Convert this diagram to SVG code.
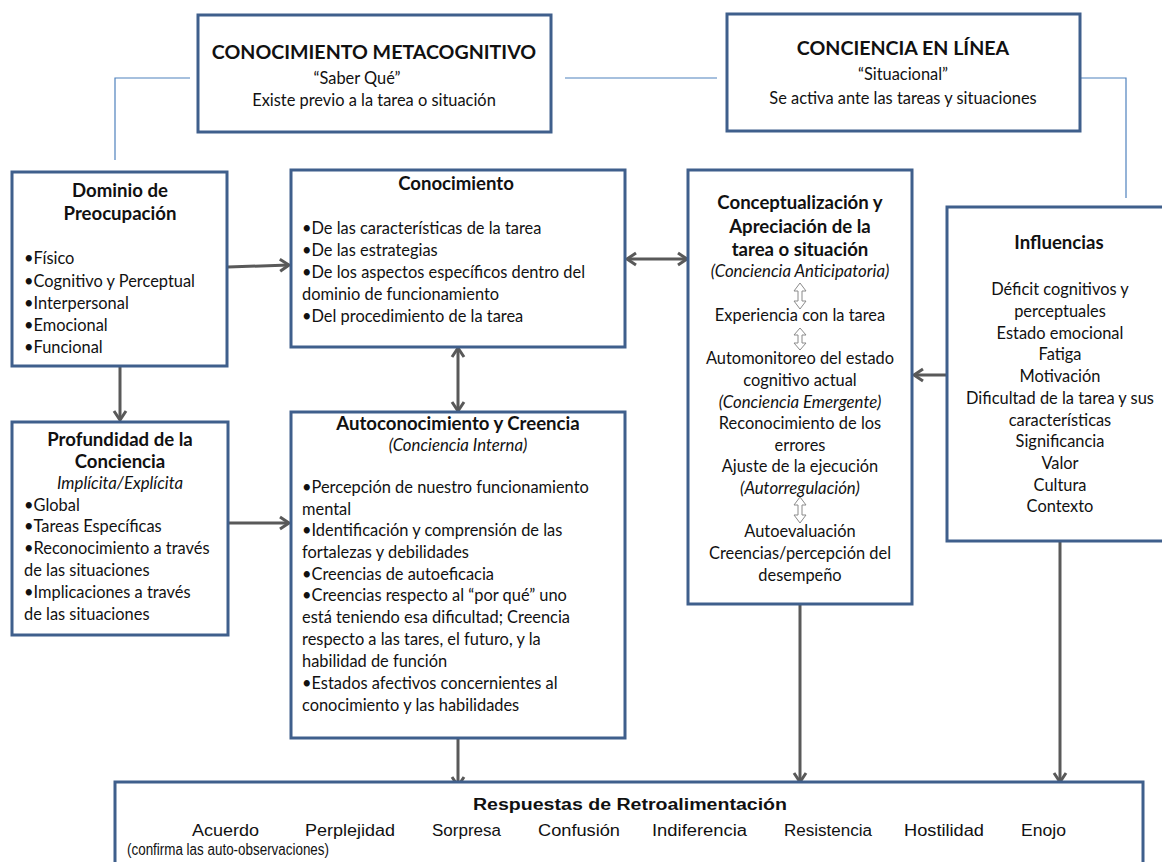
<svg xmlns="http://www.w3.org/2000/svg" width="1162" height="862" viewBox="0 0 1162 862">
<style>
.box{fill:#fff;stroke:#3f5f8c;stroke-width:3}
.t{font-family:Lato,"Liberation Sans",sans-serif;font-size:16.4px;fill:#111}
.c{text-anchor:middle}
.b{font-weight:bold;font-size:18.6px}
.i{font-style:italic;font-size:16.8px}
.big{font-size:19.6px;font-weight:bold}
.blue{fill:none;stroke:#4f81bd;stroke-width:1.2}
.arr{fill:none;stroke:#595959;stroke-width:3}
.dbl{fill:#fff;stroke:#8a8a8a;stroke-width:1}
.n{font-family:"Liberation Sans",sans-serif;font-size:16px;fill:#111}
</style>
<defs>
<marker id="ah" markerUnits="userSpaceOnUse" markerWidth="16" markerHeight="16" refX="13" refY="8" orient="auto-start-reverse" viewBox="0 0 16 16">
<path d="M4,2 L13,8 L4,14" fill="none" stroke="#595959" stroke-width="3"/>
</marker>
</defs>
<rect width="1162" height="862" fill="#fff"/>

<g id="connectors">
<path class="blue" d="M190,78 H115 V160"/>
<path class="blue" d="M565,78 H717"/>
<path class="blue" d="M1081,78 H1126 V198"/>
<line class="arr" x1="228" y1="267" x2="289" y2="265" marker-end="url(#ah)"/>
<line class="arr" x1="120" y1="367" x2="120" y2="420" marker-end="url(#ah)"/>
<line class="arr" x1="217" y1="523" x2="289" y2="523" marker-end="url(#ah)"/>
<line class="arr" x1="627" y1="259" x2="687" y2="259" marker-start="url(#ah)" marker-end="url(#ah)"/>
<line class="arr" x1="458" y1="348" x2="458" y2="411" marker-start="url(#ah)" marker-end="url(#ah)"/>
<line class="arr" x1="947" y1="375" x2="914" y2="375" marker-end="url(#ah)"/>
<line class="arr" x1="458" y1="739" x2="458" y2="786" marker-end="url(#ah)"/>
<line class="arr" x1="800" y1="605" x2="800" y2="782" marker-end="url(#ah)"/>
<line class="arr" x1="1060" y1="542" x2="1060" y2="782" marker-end="url(#ah)"/>
</g>

<g id="metacognitivo">
<rect class="box" x="198" y="15" width="353" height="117"/>
<text class="t c big" x="374" y="59">CONOCIMIENTO METACOGNITIVO</text>
<text class="t c" x="357" y="84" font-size="15">“Saber Qué”</text>
<text class="t c" x="374" y="106">Existe previo a la tarea o situación</text>
</g>

<g id="enlinea">
<rect class="box" x="727" y="14" width="353" height="117"/>
<text class="t c big" x="903" y="55">CONCIENCIA EN LÍNEA</text>
<text class="t c" x="903" y="80" font-size="18">“Situacional”</text>
<text class="t c" x="903" y="104">Se activa ante las tareas y situaciones</text>
</g>

<g id="dominio">
<rect class="box" x="12" y="172" width="215" height="194"/>
<text class="t c b" x="120" y="197">Dominio de</text>
<text class="t c b" x="120" y="220">Preocupación</text>
<text class="t" x="24" y="264">•Físico</text>
<text class="t" x="24" y="287">•Cognitivo y Perceptual</text>
<text class="t" x="24" y="309">•Interpersonal</text>
<text class="t" x="24" y="331">•Emocional</text>
<text class="t" x="24" y="353">•Funcional</text>
</g>

<g id="conocimiento">
<rect class="box" x="291" y="170" width="334" height="177"/>
<text class="t c b" x="456" y="190">Conocimiento</text>
<text class="t" x="302" y="234">•De las características de la tarea</text>
<text class="t" x="302" y="256">•De las estrategias</text>
<text class="t" x="302" y="278">•De los aspectos  específicos dentro  del</text>
<text class="t" x="302" y="300">dominio de funcionamiento</text>
<text class="t" x="302" y="322">•Del procedimiento  de la tarea</text>
</g>

<g id="conceptualizacion">
<rect class="box" x="688" y="170" width="224" height="434"/>
<text class="t c b" x="800" y="209">Conceptualización y</text>
<text class="t c b" x="800" y="233">Apreciación de la</text>
<text class="t c b" x="800" y="256">tarea o situación</text>
<text class="t c i" x="800" y="277">(Conciencia Anticipatoria)</text>
<path class="dbl" d="M800,283 L806,291 L802,291 L802,301 L806,301 L800,309 L794,301 L798,301 L798,291 L794,291 Z"/>
<text class="t c" x="800" y="321">Experiencia con la tarea</text>
<path class="dbl" d="M800,328 L806,335 L802,335 L802,343 L806,343 L800,350 L794,343 L798,343 L798,335 L794,335 Z"/>
<text class="t c" x="800" y="364">Automonitoreo  del estado</text>
<text class="t c" x="800" y="386">cognitivo actual</text>
<text class="t c i" x="800" y="408">(Conciencia Emergente)</text>
<text class="t c" x="800" y="429">Reconocimiento de los</text>
<text class="t c" x="800" y="451">errores</text>
<text class="t c" x="800" y="472">Ajuste de la ejecución</text>
<text class="t c i" x="800" y="494">(Autorregulación)</text>
<path class="dbl" d="M800,497 L806,505 L802,505 L802,515 L806,515 L800,523 L794,515 L798,515 L798,505 L794,505 Z"/>
<text class="t c" x="800" y="537">Autoevaluación</text>
<text class="t c" x="800" y="559">Creencias/percepción del</text>
<text class="t c" x="800" y="581">desempeño</text>
</g>

<g id="influencias">
<rect class="box" x="947" y="207" width="220" height="334"/>
<text class="t c b" x="1059" y="249">Influencias</text>
<text class="t c" x="1060" y="295">Déficit cognitivos y</text>
<text class="t c" x="1060" y="317">perceptuales</text>
<text class="t c" x="1060" y="339">Estado emocional</text>
<text class="t c" x="1060" y="360">Fatiga</text>
<text class="t c" x="1060" y="382">Motivación</text>
<text class="t c" x="1060" y="404">Dificultad de la tarea y sus</text>
<text class="t c" x="1060" y="426">características</text>
<text class="t c" x="1060" y="447">Significancia</text>
<text class="t c" x="1060" y="469">Valor</text>
<text class="t c" x="1060" y="491">Cultura</text>
<text class="t c" x="1060" y="512">Contexto</text>
</g>

<g id="profundidad">
<rect class="box" x="12" y="422" width="216" height="213"/>
<text class="t c b" x="120" y="446">Profundidad de la</text>
<text class="t c b" x="120" y="468">Conciencia</text>
<text class="t c i" x="120" y="489">Implícita/Explícita</text>
<text class="t" x="24" y="511">•Global</text>
<text class="t" x="24" y="532">•Tareas  Específicas</text>
<text class="t" x="24" y="554">•Reconocimiento a través</text>
<text class="t" x="24" y="576">de las situaciones</text>
<text class="t" x="24" y="598">•Implicaciones a través</text>
<text class="t" x="24" y="620">de las situaciones</text>
</g>

<g id="autoconocimiento">
<rect class="box" x="291" y="412" width="334" height="326"/>
<text class="t c b" x="458" y="430">Autoconocimiento y Creencia</text>
<text class="t c i" x="458" y="451">(Conciencia Interna)</text>
<text class="t" x="302" y="493">•Percepción de nuestro  funcionamiento</text>
<text class="t" x="302" y="515">mental</text>
<text class="t" x="302" y="536">•Identificación y comprensión  de las</text>
<text class="t" x="302" y="558">fortalezas y debilidades</text>
<text class="t" x="302" y="580">•Creencias de autoeficacia</text>
<text class="t" x="302" y="601">•Creencias  respecto al “por qué”  uno</text>
<text class="t" x="302" y="623">está teniendo  esa dificultad; Creencia</text>
<text class="t" x="302" y="645">respecto a las tares, el futuro,  y la</text>
<text class="t" x="302" y="667">habilidad de función</text>
<text class="t" x="302" y="689">•Estados afectivos concernientes  al</text>
<text class="t" x="302" y="711">conocimiento y las habilidades</text>
</g>

<g id="respuestas">
<rect class="box" x="115" y="782" width="1028" height="90"/>
<text class="n b" x="473" y="810" font-size="19" textLength="314" lengthAdjust="spacingAndGlyphs">Respuestas de Retroalimentación</text>
<text class="n" x="192" y="836" textLength="67" lengthAdjust="spacingAndGlyphs">Acuerdo</text>
<text class="n" x="305" y="836" textLength="90" lengthAdjust="spacingAndGlyphs">Perplejidad</text>
<text class="n" x="432" y="836" textLength="69" lengthAdjust="spacingAndGlyphs">Sorpresa</text>
<text class="n" x="538" y="836" textLength="82" lengthAdjust="spacingAndGlyphs">Confusión</text>
<text class="n" x="652" y="836" textLength="95" lengthAdjust="spacingAndGlyphs">Indiferencia</text>
<text class="n" x="784" y="836" textLength="88" lengthAdjust="spacingAndGlyphs">Resistencia</text>
<text class="n" x="904" y="836" textLength="80" lengthAdjust="spacingAndGlyphs">Hostilidad</text>
<text class="n" x="1021" y="836" textLength="45" lengthAdjust="spacingAndGlyphs">Enojo</text>
<text class="n" x="127" y="855" font-size="12" textLength="202" lengthAdjust="spacingAndGlyphs">(confirma las auto-observaciones)</text>
</g>
</svg>
